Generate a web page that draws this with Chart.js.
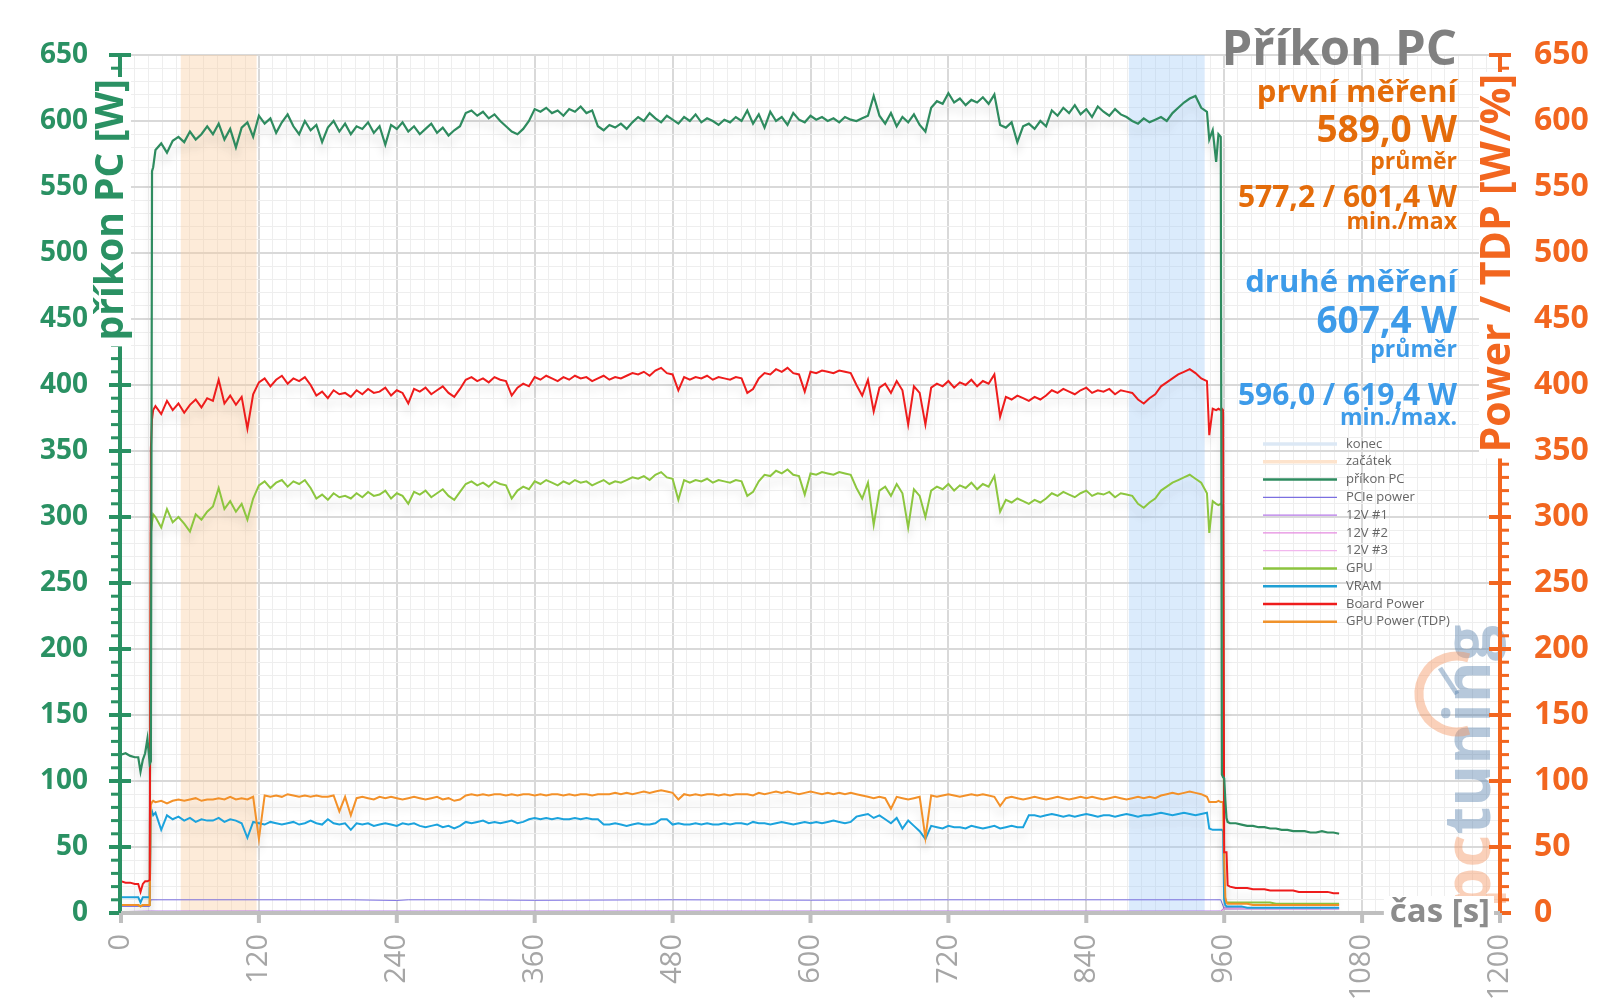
<!DOCTYPE html>
<html lang="cs">
<head>
<meta charset="UTF-8" />
<title>Příkon PC</title>
<script src="https://cdn.jsdelivr.net/npm/chart.js"></script>
<style>
  html, body { margin: 0; padding: 0; background: #fff; }
  .graf-box { width: 1600px; height: 1008px; }
</style>
</head>
<body>
<div class="graf-box"><canvas id="graf" width="1600" height="1008"></canvas></div>
<script>
// čas měření [s] – společný pro hlavní řady
const cas = [
  0,4,8,12,15,17,19,21,23,25,26,27,28,
  30,35,40,45,50,55,60,65,70,75,80,85,90,95,100,105,110,115,120,125,130,135,140,145,150,155,160,165,170,175,
  180,185,190,195,200,205,210,215,220,225,230,235,240,245,250,255,260,265,270,275,280,285,290,295,300,305,310,315,
  320,325,330,335,340,345,350,355,360,365,370,375,380,385,390,395,400,405,410,415,420,425,430,435,440,445,450,455,
  460,465,470,475,480,485,490,495,500,505,510,515,520,525,530,535,540,545,550,555,560,565,570,575,580,585,590,595,
  600,605,610,615,620,625,630,635,640,645,650,655,660,665,670,675,680,685,690,695,700,705,710,715,720,725,730,735,
  740,745,750,755,760,765,770,775,780,785,790,795,800,805,810,815,820,825,830,835,840,845,850,855,860,865,870,875,
  880,885,890,895,900,905,910,915,920,925,930,935,940,945,
  947,950,953,955,957,958,959,960,961,962,963,965,
  970,975,980,985,990,995,1000,1005,1010,1015,1020,1025,1030,1035,1040,1045,1050,1055,1060
];

const prikonPC = [
  120,121,119,118,118,107,116,121,132,113,115,562,565,
  578,583,576,585,
  588,584,592,586,590,596,
  590,598,586,594,580,595,599,588,
  604,598,602,591,599,605,596,590,600,593,597,584,
  595,600,592,598,590,596,594,599,591,596,582,
  597,594,599,592,596,590,594,598,591,595,589,593,596,
  606,608,604,607,602,605,600,596,
  592,590,594,600,
  609,607,610,606,608,604,609,607,611,606,608,
  596,593,597,595,598,594,599,
  603,600,606,602,599,604,601,598,603,600,605,599,602,600,597,601,599,603,600,
  608,598,605,595,607,600,603,597,606,601,599,604,
  601,603,600,602,599,603,601,600,602,604,
  619,604,598,606,596,603,599,605,597,592,
  610,615,613,621,614,617,612,616,614,618,613,620,
  597,595,599,584,596,598,594,600,596,
  608,604,610,606,612,605,609,603,611,607,604,609,605,603,
  600,598,602,599,601,603,600,
  606,610,614,617,619,610,607,
  586,593,569,590,588,105,103,102,85,72,69,68,
  68,67,66,66,65,65,64,64,63,63,62,62,62,61,61,62,61,61,60
];

const boardPower = [
  24,23,23,22,22,16,22,24,24,25,352,374,381,
  384,378,388,381,
  386,379,385,389,383,390,
  388,404,386,392,385,391,367,393,
  402,405,399,404,407,401,405,403,406,400,
  392,395,390,396,393,394,391,
  396,393,397,394,395,398,392,396,394,386,397,395,398,393,396,399,394,391,397,
  404,406,403,405,402,406,404,403,
  392,398,401,399,
  406,404,407,405,403,406,404,407,405,406,403,405,407,404,406,405,407,
  409,408,410,407,411,413,409,408,
  396,406,404,406,405,407,404,406,405,404,406,405,
  394,397,405,
  409,408,412,410,413,409,408,
  395,410,409,411,410,409,411,410,409,
  400,392,404,380,398,401,394,403,396,370,399,394,370,398,
  401,399,403,398,402,400,404,399,403,401,408,
  376,391,389,392,390,388,391,389,392,
  396,394,397,395,393,396,398,394,396,395,397,393,396,395,394,
  389,386,390,393,
  399,402,405,408,410,412,409,405,403,
  362,382,381,382,381,382,381,46,46,46,21,20,
  19,19,19,18,18,18,17,17,17,17,17,16,16,16,16,16,16,15,15
];

const gpu = [
  6,6,6,6,6,5,6,6,6,6,288,296,302,
  300,292,306,296,
  300,295,289,302,298,304,
  308,322,306,312,304,310,298,314,
  324,327,322,326,328,323,327,325,328,322,
  314,317,313,318,315,316,314,
  318,315,319,316,317,320,314,318,316,310,319,317,320,315,318,321,316,313,319,
  325,327,324,326,323,327,325,324,
  314,320,323,321,
  327,325,328,326,324,327,325,328,326,327,324,326,328,325,327,326,328,
  330,329,331,328,332,334,330,329,
  313,328,326,328,327,329,326,328,327,326,328,327,
  316,319,327,
  332,331,335,333,336,332,331,
  317,333,332,334,333,332,334,333,332,
  322,314,326,294,320,323,316,325,318,292,321,316,300,320,
  323,321,325,320,324,322,326,321,325,323,331,
  304,313,311,314,312,310,313,311,314,
  318,316,319,317,315,318,320,316,318,317,319,315,318,317,316,
  310,307,311,314,
  320,323,326,328,330,332,329,326,318,
  288,312,310,309,310,309,308,12,9,8,8,8,
  8,8,8,8,8,8,8,7,7,7,7,7,7,7,7,7,7,7,7
];

const vram = [
  12,12,12,12,12,8,12,12,12,12,75,77,74,
  76,63,74,71,
  73,70,72,69,71,70,
  70,72,69,71,70,68,57,69,
  68,67,69,68,67,68,69,67,68,70,68,67,
  71,68,67,68,63,68,67,68,66,67,68,67,66,68,67,68,
  66,65,66,67,65,66,64,66,
  69,68,69,70,68,69,68,69,70,68,69,
  71,72,71,72,71,72,71,71,72,71,72,71,71,
  67,67,68,67,66,67,68,67,67,68,
  71,71,
  67,68,67,67,68,67,68,67,67,68,67,68,
  68,67,69,68,68,67,68,69,68,67,68,69,68,
  69,68,69,70,69,68,69,
  73,74,75,72,74,71,
  68,72,64,70,66,62,56,
  66,65,64,66,65,65,64,66,65,64,65,66,64,65,66,65,65,
  74,74,73,74,75,74,73,74,73,74,75,74,73,74,74,73,74,75,74,73,74,74,75,76,75,74,75,76,75,74,75,76,
  64,63,63,63,63,63,62,10,6,5,5,5,
  5,5,4,4,4,4,4,4,4,4,4,4,4,4,4,4,4,4,4
];

const gpuTdp = [
  6,6,6,6,6,5,6,6,6,6,82,84,85,
  84,85,83,85,
  86,85,86,87,85,86,
  86,87,86,88,86,87,86,88,
  56,89,88,89,88,90,89,88,89,88,89,88,
  88,89,77,88,74,87,88,87,86,88,87,88,87,86,87,88,
  87,86,87,88,86,87,85,86,
  89,90,89,90,89,90,90,89,90,89,90,90,89,90,89,90,90,89,90,89,90,90,89,90,90,
  90,91,90,91,90,91,92,91,92,93,92,91,
  86,90,89,90,89,90,90,89,90,89,90,90,
  90,89,91,90,91,92,91,92,91,90,91,92,
  91,90,91,90,91,90,91,90,89,88,87,
  88,87,79,88,87,86,87,88,57,
  89,88,89,90,89,88,89,90,89,90,89,88,
  81,87,88,87,86,87,88,87,86,87,88,87,86,87,88,87,88,87,86,87,88,87,86,87,88,87,88,87,
  89,90,91,90,91,92,91,90,88,
  84,84,84,85,84,84,84,40,12,8,7,7,
  7,7,7,6,6,6,6,6,6,6,6,6,6,6,6,6,6,6,6
];

// malé řady s vlastním časem
const casPCIe = [0, 25, 26, 200, 240, 250, 300, 360, 480, 600, 720, 840, 957, 960, 1060];
const pciePower = [5, 5, 10, 10, 9.5, 10, 10, 9.6, 10, 9.7, 10, 10, 10, 3, 3];
const casKonektory = [0, 26, 957, 960, 1060];
const v12_1 = [1, 1.5, 1.5, 4, 4];
const v12_2 = [1, 1, 1, 3.5, 3.5];
const v12_3 = [0.5, 0.5, 0.5, 3, 3];

// vyznačené úseky [s]
const zacatek = [52, 118];
const konec = [877, 943];

// texty vpravo nahoře
const prvniMereni = { prumer: '589,0 W', minMax: '577,2 / 601,4 W' };
const druheMereni = { prumer: '607,4 W', minMax: '596,0 / 619,4 W' };

const PISMO = '"Open Sans", "Noto Sans", sans-serif';
const ZELENA = '#2a9163';
const ORANZOVA = '#f2661f';
const SEDA = '#a6a6a6';
const TEXT_ORANZ = '#e46c0a';
const TEXT_MODRA = '#3d9be9';

const legenda = [
  ['konec', '#dce8f5', 3.5],
  ['začátek', '#fde3cc', 3.5],
  ['příkon PC', '#2e8b5f', 2.5],
  ['PCIe power', '#7b6fe0', 1.3],
  ['12V #1', '#b679e8', 1.3],
  ['12V #2', '#e58be0', 1.3],
  ['12V #3', '#f2b7ee', 1.3],
  ['GPU', '#8cc43f', 2.5],
  ['VRAM', '#1e9fd4', 2.5],
  ['Board Power', '#ee1c1c', 2.5],
  ['GPU Power (TDP)', '#f0922b', 2.5]
];

function body(casy, hodnoty) {
  return casy.map((t, i) => ({ x: t, y: hodnoty[i] }));
}

function rada(label, casy, hodnoty, barva, sirka, osa) {
  return {
    label, data: body(casy, hodnoty), borderColor: barva, borderWidth: sirka,
    pointRadius: 0, fill: false, tension: 0, yAxisID: osa || 'y'
  };
}

function osaY(ctx, xPos, sc, barva, smer) {
  ctx.strokeStyle = barva;
  ctx.lineWidth = 4;
  ctx.beginPath();
  ctx.moveTo(xPos, sc.getPixelForValue(0) + 2);
  ctx.lineTo(xPos, sc.getPixelForValue(650) - 2);
  ctx.stroke();
  sc.ticks.forEach(t => {
    const yy = sc.getPixelForValue(t.value);
    ctx.beginPath();
    if (Math.round(t.value) % 50 === 0) {
      ctx.lineWidth = 4;
      ctx.moveTo(xPos - 11, yy); ctx.lineTo(xPos + 11, yy);
    } else {
      ctx.lineWidth = 3;
      ctx.moveTo(xPos, yy); ctx.lineTo(xPos + smer * 9, yy);
    }
    ctx.stroke();
  });
}

function svislyText(ctx, text, cx, horni, barva, font) {
  ctx.save();
  ctx.font = font;
  const w = ctx.measureText(text).width;
  ctx.translate(cx, horni);
  ctx.rotate(-Math.PI / 2);
  ctx.fillStyle = '#fff';
  ctx.fillRect(-w - 6, -19, w + 8, 38);
  ctx.fillStyle = barva;
  ctx.textAlign = 'right';
  ctx.textBaseline = 'middle';
  ctx.fillText(text, 0, 0);
  ctx.restore();
}

function radek(ctx, text, y, barva, velikost) {
  ctx.font = 'bold ' + velikost + 'px ' + PISMO;
  ctx.fillStyle = barva;
  ctx.fillText(text, 1457, y);
}

const kresleni = {
  id: 'kresleni',
  beforeDatasetsDraw(chart) {
    const { ctx, chartArea: a, scales: { x } } = chart;
    ctx.save();
    [[zacatek, 'rgba(250, 200, 150, 0.36)'], [konec, 'rgba(150, 195, 245, 0.34)']].forEach(([p, barva]) => {
      const x1 = x.getPixelForValue(p[0]);
      const x2 = x.getPixelForValue(p[1]);
      ctx.fillStyle = barva;
      ctx.fillRect(x1, a.top, x2 - x1, a.bottom - a.top);
    });
    ctx.restore();
  },
  beforeDatasetDraw(chart, args) {
    const ctx = chart.ctx;
    ctx.save();
    if (args.index < 5) {
      ctx.shadowColor = 'rgba(0, 0, 0, 0.13)';
      ctx.shadowBlur = 9;
      ctx.shadowOffsetY = 9;
    }
  },
  afterDatasetDraw(chart) {
    chart.ctx.restore();
  },
  afterDraw(chart) {
    const { ctx, chartArea: a, scales: { x, y } } = chart;
    ctx.save();

    // logo
    ctx.save();
    ctx.translate(1472, 908);
    ctx.rotate(-Math.PI / 2);
    ctx.font = 'bold 64px ' + PISMO;
    ctx.textBaseline = 'middle';
    ctx.textAlign = 'left';
    ctx.fillStyle = 'rgba(244, 150, 100, 0.45)';
    ctx.fillText('pc', 0, 0);
    const wpc = ctx.measureText('pc').width;
    ctx.fillStyle = 'rgba(80, 125, 170, 0.42)';
    ctx.fillText('tuning', wpc, 0);
    ctx.restore();
    ctx.strokeStyle = 'rgba(244, 150, 100, 0.45)';
    ctx.lineWidth = 9;
    ctx.beginPath();
    ctx.arc(1457, 694, 38, 0.4 * Math.PI, 1.6 * Math.PI);
    ctx.stroke();
    ctx.strokeStyle = 'rgba(80, 125, 170, 0.42)';
    ctx.lineWidth = 5;
    ctx.beginPath();
    ctx.moveTo(1457, 694); ctx.lineTo(1440, 668);
    ctx.stroke();

    // osy
    osaY(ctx, a.left - 1, y, ZELENA, -1);
    osaY(ctx, a.right, y, ORANZOVA, 1);
    ctx.strokeStyle = '#bfbfbf';
    ctx.lineWidth = 4;
    ctx.beginPath();
    ctx.moveTo(a.left, a.bottom); ctx.lineTo(a.right, a.bottom);
    ctx.stroke();
    x.ticks.forEach(t => {
      if (Math.round(t.value) % 120 !== 0) return;
      const xx = x.getPixelForValue(t.value);
      ctx.beginPath();
      ctx.moveTo(xx, a.bottom); ctx.lineTo(xx, a.bottom + 10);
      ctx.stroke();
    });

    // názvy os
    svislyText(ctx, 'příkon PC [W]', 112, 79, ZELENA, 'bold 39px ' + PISMO);
    svislyText(ctx, 'Power / TDP [W/%]', 1498, 74, ORANZOVA, 'bold 41px ' + PISMO);
    ctx.font = 'bold 33px ' + PISMO;
    const wc = ctx.measureText('čas [s]').width;
    ctx.fillStyle = '#fff';
    ctx.fillRect(1490 - wc - 6, a.bottom - 17, wc + 10, 34);
    ctx.fillStyle = '#8c8c8c';
    ctx.textAlign = 'right';
    ctx.textBaseline = 'middle';
    ctx.fillText('čas [s]', 1490, a.bottom);

    // titulek a hodnoty
    ctx.textAlign = 'right';
    ctx.textBaseline = 'alphabetic';
    radek(ctx, 'Příkon PC', 65, '#808080', 49);
    radek(ctx, 'první měření', 102, TEXT_ORANZ, 31);
    radek(ctx, prvniMereni.prumer, 142, TEXT_ORANZ, 37);
    radek(ctx, 'průměr', 169, TEXT_ORANZ, 23);
    radek(ctx, prvniMereni.minMax, 207, TEXT_ORANZ, 30);
    radek(ctx, 'min./max', 229, TEXT_ORANZ, 23);
    radek(ctx, 'druhé měření', 292, TEXT_MODRA, 31);
    radek(ctx, druheMereni.prumer, 333, TEXT_MODRA, 37);
    radek(ctx, 'průměr', 357, TEXT_MODRA, 23);
    radek(ctx, druheMereni.minMax, 405, TEXT_MODRA, 30);
    radek(ctx, 'min./max.', 425, TEXT_MODRA, 23);

    // legenda
    ctx.textAlign = 'left';
    ctx.textBaseline = 'middle';
    ctx.font = '13px ' + PISMO;
    legenda.forEach(([nazev, barva, sirka], i) => {
      const yy = 444 + i * 17.77;
      ctx.strokeStyle = barva;
      ctx.lineWidth = sirka;
      ctx.beginPath();
      ctx.moveTo(1263, yy); ctx.lineTo(1337, yy);
      ctx.stroke();
      ctx.fillStyle = '#666';
      ctx.fillText(nazev, 1346, yy);
    });
    ctx.restore();
  }
};

const mrizka = (krok) => ({
  color: c => (c.tick && Math.round(c.tick.value) % krok === 0) ? '#d9d9d9' : '#eeeeee',
  lineWidth: c => (c.tick && Math.round(c.tick.value) % krok === 0) ? 2 : 1,
  drawTicks: false
});

new Chart(document.getElementById('graf'), {
  type: 'line',
  data: {
    datasets: [
      rada('příkon PC', cas, prikonPC, '#2e8b5f', 2.2),
      rada('Board Power', cas, boardPower, '#ee1c1c', 2),
      rada('GPU Power (TDP)', cas, gpuTdp, '#f39129', 2, 'y2'),
      rada('VRAM', cas, vram, '#1ca3dd', 2),
      rada('GPU', cas, gpu, '#8cc63f', 2),
      rada('12V #3', casKonektory, v12_3, '#f2b7ee', 1),
      rada('12V #2', casKonektory, v12_2, '#e58be0', 1),
      rada('12V #1', casKonektory, v12_1, '#b679e8', 1),
      rada('PCIe power', casPCIe, pciePower, '#7b6fe0', 1)
    ]
  },
  options: {
    responsive: false,
    animation: false,
    layout: { padding: { top: 55, left: 0, right: 0, bottom: 0 } },
    plugins: { legend: { display: false }, tooltip: { enabled: false } },
    scales: {
      x: {
        type: 'linear', min: 0, max: 1200,
        afterFit: s => { s.height = 95; },
        border: { display: false },
        grid: mrizka(120),
        ticks: {
          stepSize: 12, autoSkip: false, maxRotation: 90, minRotation: 90, padding: 21,
          color: SEDA, font: { family: PISMO, size: 29 },
          callback: v => Math.round(v) % 120 === 0 ? Math.round(v) : ''
        }
      },
      y: {
        position: 'left', min: 0, max: 650,
        afterFit: s => { s.width = 121; },
        border: { display: false },
        grid: mrizka(50),
        ticks: {
          stepSize: 10, autoSkip: false, padding: 33,
          color: ZELENA, font: { family: PISMO, size: 28, weight: 'bold' },
          callback: v => Math.round(v) % 50 === 0 ? Math.round(v) : ''
        }
      },
      y2: {
        position: 'right', min: 0, max: 650,
        afterFit: s => { s.width = 100; },
        border: { display: false },
        grid: { display: false, drawTicks: false },
        ticks: {
          stepSize: 10, autoSkip: false, padding: 34,
          color: ORANZOVA, font: { family: PISMO, size: 32, weight: 'bold' },
          callback: v => Math.round(v) % 50 === 0 ? Math.round(v) : ''
        }
      }
    }
  },
  plugins: [kresleni]
});
</script>
</body>
</html>
